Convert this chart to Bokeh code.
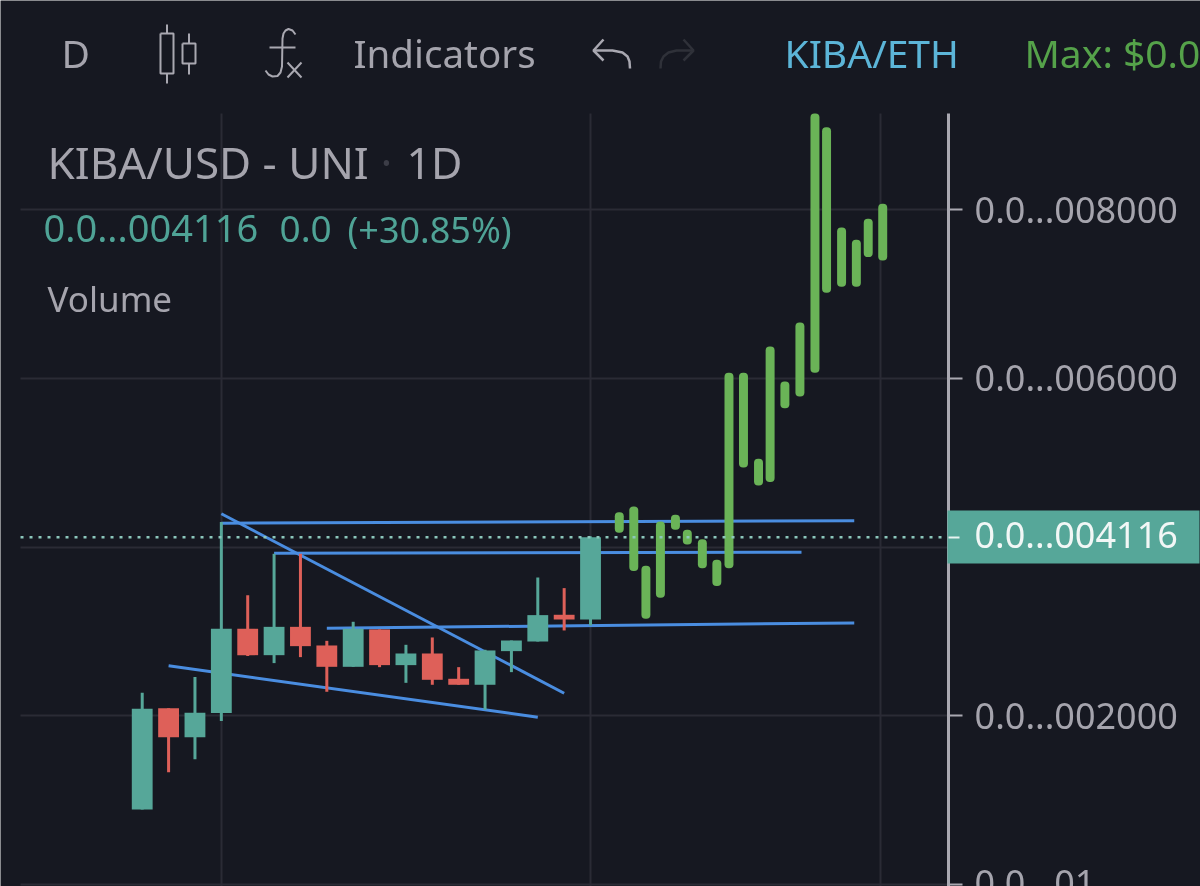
from bokeh.plotting import figure
from bokeh.embed import file_html
from bokeh.resources import INLINE
from bokeh.models import (AllLabels, FixedTicker, Range1d, LinearAxis, Grid, Label,
                          BoxAnnotation, PolyAnnotation, ColumnDataSource)

# candles (index, open, close, high, low) in units of the truncated price label
candle_i = list(range(18))
c_open  = [889, 2091, 1747, 2032, 3032, 2719, 3055, 2834, 2581, 3024, 2601, 2739, 2439, 2368, 2767, 2881, 3198, 3142]
c_close = [2083, 1747, 2036, 3032, 2719, 3055, 2826, 2581, 3032, 2601, 2739, 2427, 2368, 2775, 2893, 3194, 3142, 4116]
c_high  = [2273, 2091, 2459, 4297, 3431, 3921, 3921, 2889, 3115, 3024, 2842, 2929, 2577, 2783, 2893, 3640, 3514, 4127]
c_low   = [889, 1332, 1486, 1937, 2708, 2625, 2696, 2285, 2581, 2577, 2391, 2368, 2368, 2071, 2518, 2881, 3012, 3071]

# hand-painted green strokes
brush_x = [18.09, 18.64, 19.10, 19.65, 20.22, 20.67, 21.24, 21.79, 22.25, 22.80, 23.37, 23.81,
           24.37, 24.94, 25.51, 25.95, 26.52, 27.08, 27.53, 28.08]
brush_top = [4415, 4482, 3779, 4304, 4383, 4206, 4095, 3850, 6067, 6067, 5048, 6380,
             5965, 6664, 9143, 8980, 7791, 7644, 7893, 8071]
brush_bot = [4170, 3716, 3150, 3399, 4206, 4032, 3751, 3538, 3751, 4945, 4731, 4771,
             5648, 5787, 6067, 7016, 7087, 7087, 7439, 7399]

# trend lines: x0, y0, x1, y1
trend_x0 = [3, 3, 5, 7, 1]
trend_y0 = [4396, 4284, 3929, 3039, 2593]
trend_x1 = [16, 27, 25, 27, 15]
trend_y1 = [2268, 4313, 3940, 3101, 1984]

last_price = 4116
price_ticks = [0, 2000, 4000, 6000, 8000]
price_labels = {0: "", 2000: "0.0...002000", 4000: "", 6000: "0.0...006000", 8000: "0.0...008000"}
time_grid = [3, 17, 28]

BG = "#161821"
GRID = "#2a2b35"
TEXT = "#a5a4ad"
TEAL = "#56a799"
RED = "#de6059"
GREEN = "#6ab357"
BLUE = "#4a8de0"
FONT = "Noto Sans"

# the plot frame fills the page; the price scale sits inside it
X_LEFT, X_AXIS = -4.615, 30.576
Y_BOTTOM, Y_TOP = -24, 9143

p = figure(width=1200, height=886, output_backend="svg", toolbar_location=None, tools="",
           x_range=Range1d(-5.374, 40.13), y_range=Range1d(Y_BOTTOM, 10482),
           x_axis_location=None, y_axis_location=None,
           min_border_left=0, min_border_right=0, min_border_top=0, min_border_bottom=0,
           background_fill_color=BG, border_fill_color=BG, outline_line_color=None)
p.styles = {"position": "fixed", "left": "0", "top": "0"}
p.grid.visible = False

p.add_layout(Grid(dimension=0, ticker=FixedTicker(ticks=time_grid), cross_bounds=(Y_BOTTOM, Y_TOP),
                  grid_line_color=GRID, grid_line_width=2))
p.add_layout(Grid(dimension=1, ticker=FixedTicker(ticks=price_ticks), cross_bounds=(X_LEFT, X_AXIS),
                  grid_line_color=GRID, grid_line_width=2))

axis = LinearAxis(ticker=FixedTicker(ticks=price_ticks, minor_ticks=[]), fixed_location=X_AXIS,
                  bounds=(Y_BOTTOM, Y_TOP), major_label_overrides=price_labels,
                  axis_line_color="#a9a8b1", axis_line_width=3,
                  major_tick_line_color="#a9a8b1", major_tick_line_width=2,
                  major_tick_in=0, major_tick_out=14, minor_tick_line_color=None,
                  major_label_standoff=12, major_label_text_color=TEXT,
                  major_label_text_font=FONT, major_label_text_font_size="36px",
                  major_label_policy=AllLabels())
p.add_layout(axis, "right")

p.segment(trend_x0, trend_y0, trend_x1, trend_y1, line_color=BLUE, line_width=3)

colors = [TEAL if c >= o else RED for o, c in zip(c_open, c_close)]
src = ColumnDataSource(dict(i=candle_i, o=c_open, c=c_close, h=c_high, l=c_low, col=colors))
p.segment("i", "h", "i", "l", source=src, line_color="col", line_width=3)
p.vbar("i", 0.79, "o", "c", source=src, fill_color="col", line_color=None)

p.vbar(brush_x, 0.34, brush_bot, brush_top, fill_color=GREEN, line_color=None, border_radius=4)

p.segment([X_LEFT], [last_price], [X_AXIS], [last_price], line_color="#8cc7bc", line_width=2.5, line_dash="3 6")


def box(left, right, top, bottom, color):
    p.add_layout(BoxAnnotation(left=left, right=right, top=top, bottom=bottom, left_units="canvas",
                               right_units="canvas", top_units="canvas", bottom_units="canvas",
                               fill_color=color, fill_alpha=1, line_color=None, level="overlay"))


# last-price tag on the axis
box(947, 1199, 510, 563, TEAL)


def text(s, x, y, color=TEXT, size=34):
    p.add_layout(Label(x=x, y=y - 0.4 * size, x_units="canvas", y_units="canvas", text=s, text_color=color,
                       text_font=FONT, text_font_size=f"{size}px", text_baseline="alphabetic", level="overlay"))


def stroke(pts, color="#a9a8b1", width=2):
    xs = [a for a, _ in pts] + [a for a, _ in reversed(pts)]
    ys = [b for _, b in pts] + [b for _, b in reversed(pts)]
    p.add_layout(PolyAnnotation(xs=xs, ys=ys, xs_units="canvas", ys_units="canvas", fill_alpha=0,
                                line_color=color, line_alpha=1, line_width=width, level="overlay"))


stroke([(948, 537), (959, 537)], "#e8f4f1", 2)
text("0.0...004116", 974, 549, "#f2f7f6", 36)
text("0.0...01", 974, 897, TEXT, 36)

text("D", 61, 68, TEXT, 39)
text("Indicators", 353, 68, TEXT, 38.5)
text("KIBA/ETH", 784, 68, "#5cb5d8", 39)
text("Max: $0.0", 1024, 68, "#55a24a", 39)
text("KIBA/USD - UNI", 47, 179, TEXT, 44)
text("·", 380, 179, "#3c3d47", 44)
text("1D", 406, 179, TEXT, 43)
text("0.0...004116", 43, 243, "#4fa396", 38)
text("0.0", 279, 243, "#4fa396", 37)
text("(+30.85%)", 347, 243, "#4fa396", 36)
text("Volume", 47, 312, TEXT, 35)

# toolbar icons
stroke([(160, 33), (173, 33), (173, 73), (160, 73), (160, 33)])
stroke([(166.5, 24), (166.5, 33)])
stroke([(166.5, 73), (166.5, 83)])
stroke([(182, 43), (195, 43), (195, 63), (182, 63), (182, 43)])
stroke([(188.5, 33), (188.5, 43)])
stroke([(188.5, 63), (188.5, 74)])
stroke([(295, 34), (292, 30), (288, 28.5), (285, 30), (283, 33), (282, 38), (281.5, 66), (280, 72),
        (277, 75.5), (272, 76), (268, 74), (265, 70)])
stroke([(269, 47), (295, 47)])
stroke([(287, 62), (301, 77)])
stroke([(301, 62), (287, 77)])
stroke([(603, 39), (593, 50), (603, 60)], "#a9a8b1", 2.5)
stroke([(593, 50), (612, 50), (622, 52), (627, 56), (629, 61), (629.5, 68)], "#a9a8b1", 2.5)
stroke([(683, 39), (693, 50), (683, 60)], "#2f3139", 2.5)
stroke([(693, 50), (676, 50), (668, 52), (663, 56), (660.5, 61), (660, 68)], "#2f3139", 2.5)

open("out.html", "w").write(file_html(p, INLINE))
